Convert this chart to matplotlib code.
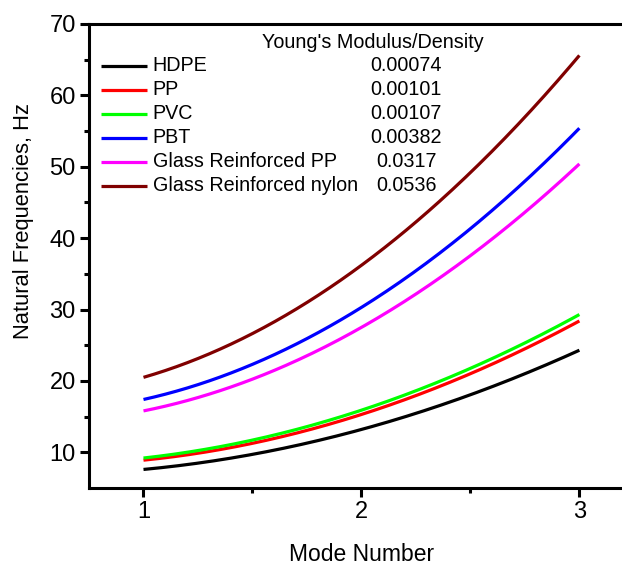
import numpy as np
import matplotlib
matplotlib.use("Agg")
import matplotlib.pyplot as plt

plt.rcParams['font.family'] = ['Liberation Sans', 'DejaVu Sans']

# natural frequency (Hz) for modes 1-3 of each material
modes = [1, 2, 3]
materials = ['HDPE', 'PP', 'PVC', 'PBT', 'Glass Reinforced PP', 'Glass Reinforced nylon']
modulus_density = ['0.00074', '0.00101', '0.00107', '0.00382', '0.0317', '0.0536']
hdpe = [7.6, 13.2, 24.3]
pp = [8.9, 15.3, 28.4]
pvc = [9.2, 15.9, 29.3]
pbt = [17.4, 30.3, 55.4]
gr_pp = [15.8, 27.5, 50.4]
gr_nylon = [20.5, 36.2, 65.6]
colors = ['#000000', '#ff0000', '#00ff00', '#0000ff', '#ff00ff', '#800000']

series = [hdpe, pp, pvc, pbt, gr_pp, gr_nylon]

fig = plt.figure(figsize=(6.22, 5.66), dpi=100)
ax = fig.add_axes([0.1431, 0.1378, 0.876, 0.8198])

xs = np.linspace(modes[0], modes[-1], 200)
for vals, col in zip(series, colors):
    # smooth curve through the three mode points
    coef = np.polyfit(modes, vals, 2)
    ax.plot(xs, np.polyval(coef, xs), color=col, lw=2.3, solid_capstyle='butt')

ax.set_xlim(0.75, 3.25)
ax.set_ylim(5, 70)
ax.set_xticks([1, 2, 3])
ax.set_xticks([1.5, 2.5], minor=True)
ax.set_yticks([10, 20, 30, 40, 50, 60, 70])
ax.set_yticks([15, 25, 35, 45, 55, 65], minor=True)
ax.tick_params(which='major', direction='out', length=6.5, width=2.2, labelsize=17, pad=3)
ax.tick_params(which='minor', direction='out', length=3.8, width=2.2)
for s in ['left', 'bottom', 'top']:
    ax.spines[s].set_linewidth(2.2)
ax.spines['right'].set_visible(False)

ax.set_xlabel('Mode Number', fontsize=16.5, labelpad=14)
ax.set_ylabel('Natural Frequencies, Hz', fontsize=15.8)
ax.yaxis.set_label_coords(-0.101, 0.575)

# legend block with the modulus/density column
fs = 14.2
ax.text(0.521, 0.961, "Young's Modulus/Density", transform=ax.transAxes,
        ha='center', va='center', fontsize=fs)
y0, dy = 0.9095, 0.0517
for i, (name, val, col) in enumerate(zip(materials, modulus_density, colors)):
    y = y0 - i * dy
    ax.plot([0.022, 0.107], [y, y], color=col, lw=2.3, transform=ax.transAxes,
            solid_capstyle='butt')
    ax.text(0.117, y, name, transform=ax.transAxes, ha='left', va='center', fontsize=fs)
    ax.text(0.582, y, val, transform=ax.transAxes, ha='center', va='center', fontsize=fs)

fig.savefig('out.png', dpi=100)
